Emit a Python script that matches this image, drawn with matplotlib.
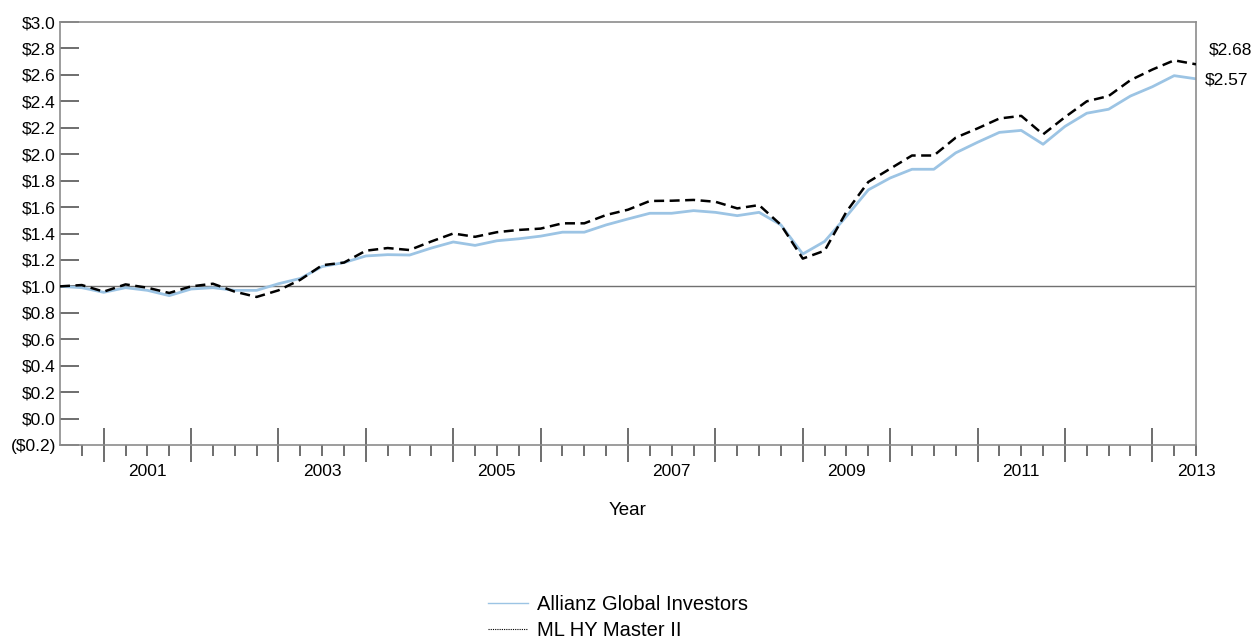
import numpy as np
import matplotlib
matplotlib.use('Agg')
import matplotlib.pyplot as plt
from matplotlib.lines import Line2D
from matplotlib.ticker import FixedLocator, FuncFormatter

plt.rcParams['font.family'] = ['Liberation Sans', 'DejaVu Sans']
plt.rcParams['font.size'] = 12

# quarterly growth of $1, Q4 1999 .. Q4 2012
START_YEAR = 2000
allianz = [1.00, 0.99, 0.955, 0.99, 0.97, 0.93, 0.98, 0.99, 0.97, 0.97,
           1.02, 1.06, 1.15, 1.18, 1.23, 1.24, 1.237, 1.29, 1.336, 1.31,
           1.345, 1.36, 1.38, 1.41, 1.41, 1.465, 1.51, 1.553, 1.553, 1.573,
           1.56, 1.535, 1.56, 1.465, 1.245, 1.34, 1.53, 1.73, 1.82, 1.886,
           1.886, 2.01, 2.09, 2.165, 2.18, 2.075, 2.21, 2.31, 2.34, 2.44,
           2.51, 2.594, 2.57]
ml_hy = [1.00, 1.01, 0.96, 1.015, 0.99, 0.95, 1.00, 1.02, 0.96, 0.92,
         0.97, 1.05, 1.16, 1.18, 1.27, 1.29, 1.275, 1.34, 1.40, 1.375,
         1.41, 1.427, 1.437, 1.477, 1.477, 1.54, 1.58, 1.646, 1.648, 1.654,
         1.64, 1.59, 1.615, 1.465, 1.21, 1.27, 1.565, 1.79, 1.89, 1.99,
         1.99, 2.125, 2.195, 2.27, 2.29, 2.15, 2.28, 2.40, 2.44, 2.56,
         2.64, 2.71, 2.68]
series_labels = ['Allianz Global Investors', 'ML HY Master II']
end_labels = ['$2.57', '$2.68']

x = START_YEAR + np.arange(len(allianz)) / 4.0

BLUE = '#9cc4e4'
GRAY = '#8c8c8c'

fig = plt.figure(figsize=(12.55, 6.4), dpi=100)
ax = fig.add_axes([60 / 1255, 1 - 445 / 640, 1136 / 1255, 423 / 640])

ax.axhline(1.0, color='#707070', linewidth=1.0, zorder=1)
ax.plot(x, allianz, color=BLUE, linewidth=2.0, zorder=2)
ax.plot(x, ml_hy, color='black', linewidth=1.8, linestyle=(0, (4, 2.2)), zorder=3)

ax.set_xlim(2000, 2013)
ax.set_ylim(-0.2, 3.0)

for s in ax.spines.values():
    s.set_color(GRAY)
    s.set_linewidth(1.2)

# y axis: ticks inside
yt = np.round(np.arange(-0.2, 3.01, 0.2), 1)
ax.set_yticks(yt)
ax.yaxis.set_major_formatter(FuncFormatter(
    lambda v, p: f'(${abs(v):.1f})' if v < -1e-9 else f'${v:.1f}'))
ax.tick_params(axis='y', direction='in', length=14, width=1.2, color='#555555',
               pad=3, labelsize=12.5)

# x axis: long ticks mid-year, short ticks at quarters, labels at odd years
major_x = [2000.5 + i for i in range(13)]
minor_x = [2000 + q / 4.0 for q in range(1, 53) if q % 4 != 2]
ax.xaxis.set_major_locator(FixedLocator(major_x))
ax.xaxis.set_minor_locator(FixedLocator(minor_x))
ax.xaxis.set_major_formatter(FuncFormatter(lambda v, p: ''))
ax.xaxis.set_minor_formatter(FuncFormatter(
    lambda v, p: str(int(round(v))) if abs(v - round(v)) < 1e-6 and int(round(v)) % 2 == 1 else ''))
ax.tick_params(axis='x', which='major', direction='inout', length=25, width=1.2,
               color='#555555')
ax.tick_params(axis='x', which='minor', direction='out', length=8, width=1.2,
               color='#555555', pad=6, labelsize=12.5)
ax.set_xlabel('Year', fontsize=13.5, labelpad=16)

# end-value labels
ax.annotate(end_labels[1], xy=(x[-1], ml_hy[-1]), xytext=(9, 10),
            textcoords='offset points', ha='left', va='center', fontsize=12.5,
            annotation_clip=False)
ax.annotate(end_labels[0], xy=(x[-1], allianz[-1]), xytext=(6, -1),
            textcoords='offset points', ha='left', va='center', fontsize=12.5,
            annotation_clip=False)

handles = [Line2D([], [], color=BLUE, linewidth=1.0),
           Line2D([], [], color='black', linewidth=0.8, linestyle=(0, (1, 1)))]
fig.legend(handles, series_labels, loc='upper left',
           bbox_to_anchor=(488 / 1255, 1 - 595 / 640), frameon=False,
           borderpad=0, borderaxespad=0, handlelength=2.0, handletextpad=0.45,
           labelspacing=0.35, fontsize=14.5)

fig.savefig('out.png', dpi=100, facecolor='white')
